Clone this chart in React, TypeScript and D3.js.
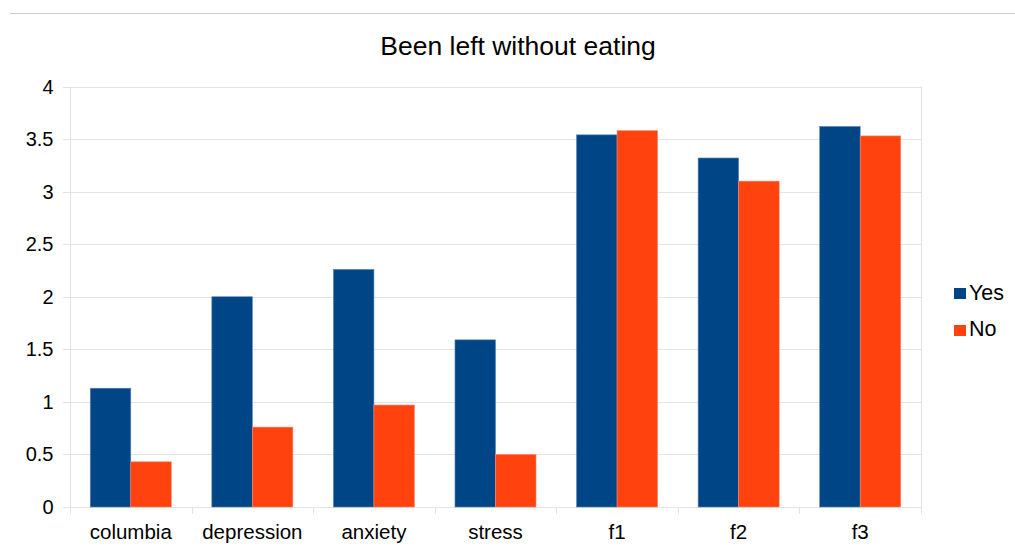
import React from "react";
import * as d3 from "d3";

const categories = ["columbia", "depression", "anxiety", "stress", "f1", "f2", "f3"];
const yesValues = [1.13, 2.0, 2.26, 1.59, 3.54, 3.32, 3.62];
const noValues = [0.43, 0.76, 0.97, 0.5, 3.58, 3.1, 3.53];
const seriesNames = ["Yes", "No"];
const seriesColors = ["#004586", "#ff420e"];
const yTicks = [0, 0.5, 1, 1.5, 2, 2.5, 3, 3.5, 4];

const W = 1015;
const H = 549;
const left = 70;
const right = 921;
const top = 86.5;
const bottom = 507;
const font = "'Liberation Sans', Arial, Helvetica, sans-serif";

export default function App() {
  const x = d3.scaleBand<string>().domain(categories).range([left, right]).paddingInner(0).paddingOuter(0);
  const y = d3.scaleLinear().domain([0, 4]).range([bottom, top]);
  const bw = x.bandwidth();
  const inner = d3.scaleBand<string>().domain(seriesNames).range([0, bw]).paddingOuter(0.5).paddingInner(0);
  const series = [yesValues, noValues];

  return (
    <svg width={W} height={H} style={{ position: "fixed", left: 0, top: 0, background: "#fff", fontFamily: font }}>
      <rect x={0} y={0} width={W} height={H} fill="#fff" />
      <line x1={10} x2={W} y1={13.5} y2={13.5} stroke="#cccccc" strokeWidth={1} />
      <text x={518} y={55} textAnchor="middle" fontSize={26.5} fill="#000">Been left without eating</text>
      {yTicks.map((t) => (
        <g key={t}>
          <line x1={63} x2={right} y1={Math.round(y(t)) + 0.5} y2={Math.round(y(t)) + 0.5} stroke="#e3e3e3" strokeWidth={1} />
          <text x={53.5} y={y(t) + 7} textAnchor="end" fontSize={20} fill="#000">{t}</text>
        </g>
      ))}
      <line x1={left + 0.5} x2={left + 0.5} y1={top} y2={bottom + 7} stroke="#e3e3e3" />
      <line x1={right + 0.5} x2={right + 0.5} y1={top} y2={bottom + 7} stroke="#e3e3e3" />
      {categories.map((c) => (
        <g key={c}>
          <line x1={Math.round(x(c)!) + 0.5} x2={Math.round(x(c)!) + 0.5} y1={bottom} y2={bottom + 7} stroke="#e3e3e3" />
          <text x={x(c)! + bw / 2} y={539} textAnchor="middle" fontSize={20.5} fill="#000">{c}</text>
        </g>
      ))}
      {series.map((vals, si) =>
        vals.map((v, i) => {
          const c = categories[i];
          const x0 = x(c)! + inner(seriesNames[si])!;
          return (
            <rect
              key={si + "-" + i}
              x={x0}
              y={y(v)}
              width={inner.bandwidth()}
              height={bottom - y(v)}
              fill={seriesColors[si]}
              stroke={si === 0 ? "#5b86b5" : "#ff8a6e"}
              strokeWidth={0.6}
            />
          );
        })
      )}
      {seriesNames.map((s, i) => (
        <g key={s}>
          <rect x={954} y={288 + i * 37} width={12} height={11} fill={seriesColors[i]} />
          <text x={969} y={299.5 + i * 36} fontSize={21.5} fill="#000">{s}</text>
        </g>
      ))}
    </svg>
  );
}
